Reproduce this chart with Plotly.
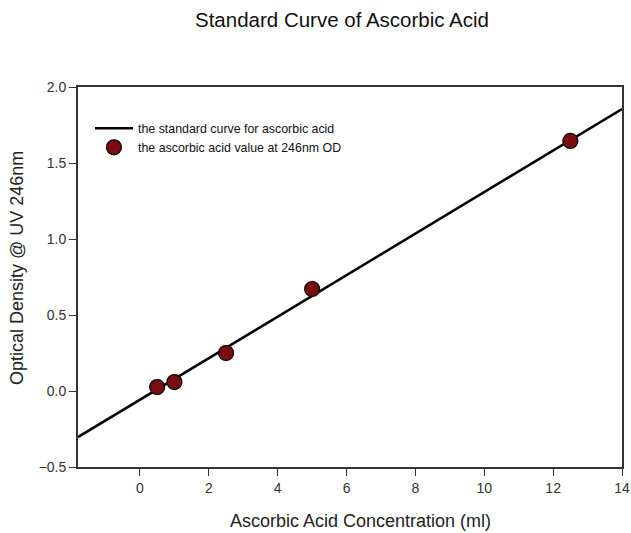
import plotly.graph_objects as go

# Data
conc = [0.5, 1.0, 2.5, 5.0, 12.5]
od = [0.026, 0.059, 0.25, 0.671, 1.645]
line_x = [-1.8, 14.0]
line_y = [-0.303, 1.855]
x_ticks = [0, 2, 4, 6, 8, 10, 12, 14]
y_ticks = [-0.5, 0.0, 0.5, 1.0, 1.5, 2.0]

font_family = "Liberation Sans, Arial, sans-serif"

fig = go.Figure()
fig.add_trace(go.Scatter(
    x=line_x, y=line_y, mode="lines",
    line=dict(color="black", width=2.5),
    name="the standard curve for ascorbic acid",
))
fig.add_trace(go.Scatter(
    x=conc, y=od, mode="markers",
    marker=dict(color="#7a0d0d", size=15, line=dict(color="black", width=1.2)),
    name="the ascorbic acid value at 246nm OD",
))

fig.update_layout(
    width=631, height=533,
    margin=dict(l=78, r=9, t=87, b=66),
    paper_bgcolor="white", plot_bgcolor="white",
    font=dict(family=font_family, size=12, color="#222"),
    title=dict(text="Standard Curve of Ascorbic Acid", x=0.542, xanchor="center",
               y=0.9625, yanchor="middle", font=dict(size=20.5, color="#111")),
    showlegend=True,
    legend=dict(x=0.022, y=0.93, xanchor="left", yanchor="top",
                bgcolor="rgba(0,0,0,0)", font=dict(size=12.4, color="#111"),
                tracegroupgap=0, itemwidth=38),
)
fig.update_xaxes(
    range=[-1.8, 14], tickvals=x_ticks, ticks="outside", ticklen=7, tickwidth=1.2,
    tickcolor="#333", showline=True, linecolor="#333", linewidth=1.8, mirror=True,
    showgrid=False, zeroline=False, automargin=False,
    tickfont=dict(size=14, color="#333"),
)
fig.update_yaxes(
    range=[-0.5, 2.0], tickvals=y_ticks, tickformat=".1f", ticks="outside", ticklen=7,
    tickwidth=1.2, tickcolor="#333", showline=True, linecolor="#333", linewidth=1.8,
    mirror=True, showgrid=False, zeroline=False, automargin=False,
    tickfont=dict(size=14, color="#333"),
)
# Axis titles placed as annotations (positions match the original off-centre titles)
fig.add_annotation(text="Ascorbic Acid Concentration (ml)", xref="paper", yref="paper",
                   x=(360 - 78) / 544, y=-(521 - 467) / 380, xanchor="center", yanchor="middle",
                   showarrow=False, font=dict(size=18, color="#222"))
fig.add_annotation(text="Optical Density @ UV 246nm", xref="paper", yref="paper",
                   x=-(78 - 17) / 544, y=(467 - 268) / 380, xanchor="center", yanchor="middle",
                   textangle=-90, showarrow=False, font=dict(size=18, color="#222"))

fig.write_html("out.html")
